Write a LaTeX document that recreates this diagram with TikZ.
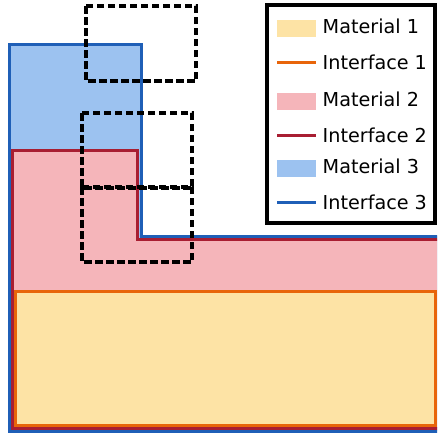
\documentclass[tikz,border=0pt]{standalone}
\usepackage{fontspec}
\setmainfont{DejaVu Sans}
\usetikzlibrary{positioning}
\definecolor{matone}{HTML}{FDE3A5}
\definecolor{ifone}{HTML}{E8650A}
\definecolor{mattwo}{HTML}{F5B5BA}
\definecolor{iftwo}{HTML}{A81E32}
\definecolor{matthree}{HTML}{9CC2F0}
\definecolor{ifthree}{HTML}{1F5FB7}

\begin{document}
\begin{tikzpicture}[
x=1pt, y=-1pt,
region/.style={line width=3pt, line join=miter},
window/.style={draw=black, line width=3.3pt, dash pattern=on 7.5pt off 3.5pt},
legendbox/.style={draw, line width=3.3pt, fill=white, inner sep=0pt, minimum width=168pt, minimum height=218pt},
swatch/.style={inner sep=0pt, minimum width=39pt, minimum height=17pt},
lineswatch/.style={inner sep=0pt, minimum width=39pt, minimum height=3pt},
lbl/.style={anchor=base west, inner sep=0pt, font=\fontsize{19.2}{22}\selectfont}
]
\useasboundingbox (0,0) rectangle (437,439);
\clip (0,0) rectangle (437,439);

\filldraw[region, fill=matthree, draw=ifthree] (9,44) -- (141,44) -- (141,236) -- (442,236) -- (442,431) -- (9,431) -- cycle;
\filldraw[region, fill=mattwo, draw=iftwo] (12,150) -- (137,150) -- (137,239) -- (439,239) -- (439,428) -- (12,428) -- cycle;
\filldraw[region, fill=matone, draw=ifone] (15,291) rectangle (435,425);

\foreach \x/\y in {86/6, 82/113, 82/187}
  \draw[window] (\x,\y) rectangle ++(110,75);

\node[legendbox] (legend) at (351,114) {};

\node[swatch, fill=matone] (mat1) at (296.5,28.5) {};
\node[lineswatch, fill=ifone] (if1) at (296.5,62) {};
\node[swatch, fill=mattwo] (mat2) at (296.5,101.5) {};
\node[lineswatch, fill=iftwo] (if2) at (296.5,135) {};
\node[swatch, fill=matthree] (mat3) at (296.5,168.5) {};
\node[lineswatch, fill=ifthree] (if3) at (296.5,202) {};

\node[lbl] (mat1lbl) at (322.5,33.5) {Material 1};
\node[lbl] (if1lbl) at (322.5,69) {Interface 1};
\node[lbl] (mat2lbl) at (322.5,106) {Material 2};
\node[lbl] (if2lbl) at (322.5,142) {Interface 2};
\node[lbl] (mat3lbl) at (322.5,173.5) {Material 3};
\node[lbl] (if3lbl) at (322.5,209) {Interface 3};

\end{tikzpicture}
\end{document}
